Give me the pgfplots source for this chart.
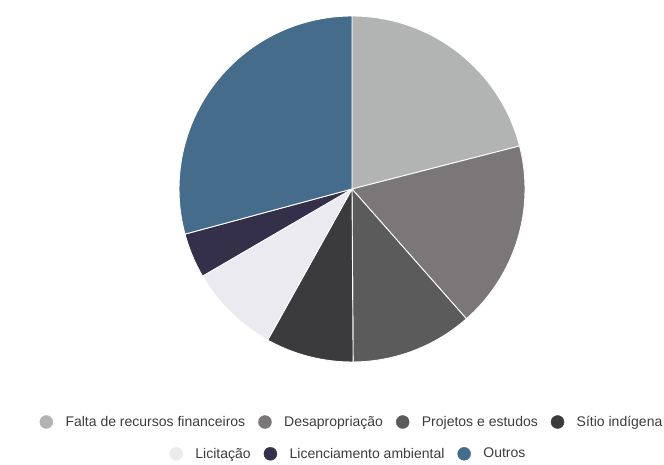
\documentclass[border=0pt]{standalone}
\usepackage{pgfplots}
\pgfplotsset{compat=1.18}
\usepackage{fontspec}
\setmainfont{Liberation Sans}
\definecolor{cFalta}{HTML}{B1B4B3}
\definecolor{cDesap}{HTML}{7B7677}
\definecolor{cProj}{HTML}{5B5B5C}
\definecolor{cSitio}{HTML}{3B3B3D}
\definecolor{cLicit}{HTML}{EBEAF0}
\definecolor{cLicen}{HTML}{35304A}
\definecolor{cOutros}{HTML}{466C8B}
\definecolor{txt}{HTML}{3C3C3C}
\pgfdeclareplotmark{emptymark}{}
\pgfplotsset{
  pieslice/.style={
    scatter, only marks, mark=emptymark,
    visualization depends on={\thisrow{s} \as \startp},
    visualization depends on={\thisrow{v} \as \valp},
    scatter/@pre marker code/.code={\begin{scope}
      \pgfmathsetmacro\aA{90-3.6*\startp}
      \pgfmathsetmacro\aB{90-3.6*(\startp+\valp)}
      \fill[#1, draw=white, line width=0.9pt, line join=round] (0pt,0pt) -- (\aA:173pt) arc[start angle=\aA, end angle=\aB, radius=173pt] -- cycle;},
    scatter/@post marker code/.code={\end{scope}},
    legend image code/.code={\fill[#1] (0pt,0pt) circle (6.5pt);},
  },
  pieaxis/.style={
    scale only axis, width=664pt, height=464pt,
    xmin=0, xmax=664, ymin=0, ymax=464,
    hide axis, clip=false,
    at={(0pt,0pt)}, anchor=south west,
    legend style={draw=none, fill=none, anchor=center,
      font=\fontsize{14}{16}\selectfont\color{txt},
      nodes={inner sep=0pt},
      /tikz/every odd column/.append style={column sep=12.5pt},
      /tikz/every even column/.append style={column sep=13pt}},
  },
}
\begin{document}
\begin{tikzpicture}
\begin{axis}[pieaxis, legend columns=4, legend style={at={(0.5286,0.0905)}}]
\addplot[pieslice=cFalta] table[row sep=\\]{x y v s\\ 352 275 21.0 0.0\\};
\addlegendentry{Falta de recursos financeiros}
\addplot[pieslice=cDesap] table[row sep=\\]{x y v s\\ 352 275 17.5 21.0\\};
\addlegendentry{Desapropriação}
\addplot[pieslice=cProj] table[row sep=\\]{x y v s\\ 352 275 11.4 38.5\\};
\addlegendentry{Projetos e estudos}
\addplot[pieslice=cSitio] table[row sep=\\]{x y v s\\ 352 275 8.2 49.9\\};
\addlegendentry{Sítio indígena}
\end{axis}
\begin{axis}[pieaxis, legend columns=3, legend style={at={(0.5233,0.0220)}}]
\addplot[pieslice=cLicit] table[row sep=\\]{x y v s\\ 352 275 8.5 58.1\\};
\addlegendentry{Licitação}
\addplot[pieslice=cLicen] table[row sep=\\]{x y v s\\ 352 275 4.2 66.6\\};
\addlegendentry{Licenciamento ambiental}
\addplot[pieslice=cOutros] table[row sep=\\]{x y v s\\ 352 275 29.2 70.8\\};
\addlegendentry{Outros}
\end{axis}
\pgfresetboundingbox
\path[use as bounding box] (0pt,0pt) rectangle (664pt,464pt);
\end{tikzpicture}
\end{document}
